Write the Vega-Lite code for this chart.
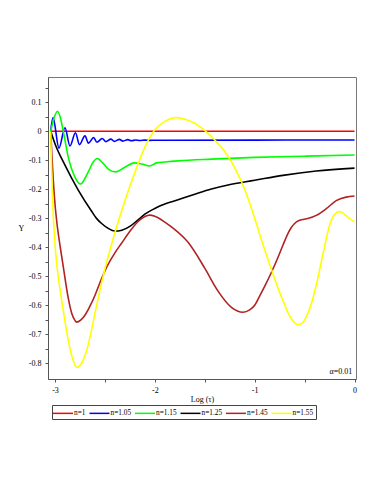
{
  "$schema": "https://vega.github.io/schema/vega-lite/v6.json",
  "width": 308,
  "height": 302,
  "autosize": {"type": "none"},
  "padding": {"left": 48, "top": 77, "right": 27, "bottom": 116},
  "background": "white",
  "config": {
    "font": "Liberation Serif",
    "view": {"stroke": "#777", "strokeWidth": 1},
    "axis": {
      "domainColor": "#555",
      "tickColor": "#555",
      "tickSize": 3,
      "labelFont": "Liberation Serif",
      "labelFontSize": 8,
      "labelColor": "#000",
      "labelOverlap": false,
      "titleFont": "Liberation Serif",
      "titleFontSize": 8,
      "titleFontWeight": "normal",
      "titleColor": "#000",
      "grid": false
    }
  },
  "layer": [
    {
      "data": {
        "values": [
          {"series": "n=1", "x": -3.043, "y": 0},
          {"series": "n=1", "x": 0, "y": 0},

          {"series": "n=1.05", "x": -3.043, "y": 0},
          {"series": "n=1.05", "x": -3.02, "y": 0.047},
          {"series": "n=1.05", "x": -2.96, "y": -0.058},
          {"series": "n=1.05", "x": -2.9, "y": 0.012},
          {"series": "n=1.05", "x": -2.85, "y": -0.051},
          {"series": "n=1.05", "x": -2.795, "y": -0.005},
          {"series": "n=1.05", "x": -2.755, "y": -0.046},
          {"series": "n=1.05", "x": -2.7, "y": -0.016},
          {"series": "n=1.05", "x": -2.665, "y": -0.041},
          {"series": "n=1.05", "x": -2.613, "y": -0.022},
          {"series": "n=1.05", "x": -2.58, "y": -0.038},
          {"series": "n=1.05", "x": -2.527, "y": -0.025},
          {"series": "n=1.05", "x": -2.49, "y": -0.036},
          {"series": "n=1.05", "x": -2.44, "y": -0.027},
          {"series": "n=1.05", "x": -2.405, "y": -0.035},
          {"series": "n=1.05", "x": -2.355, "y": -0.028},
          {"series": "n=1.05", "x": -2.32, "y": -0.034},
          {"series": "n=1.05", "x": -2.27, "y": -0.029},
          {"series": "n=1.05", "x": -2.235, "y": -0.033},
          {"series": "n=1.05", "x": -2.19, "y": -0.03},
          {"series": "n=1.05", "x": -2.15, "y": -0.032},
          {"series": "n=1.05", "x": -2.1, "y": -0.0305},
          {"series": "n=1.05", "x": -2.05, "y": -0.0315},
          {"series": "n=1.05", "x": -2.0, "y": -0.031},
          {"series": "n=1.05", "x": -1.0, "y": -0.0305},
          {"series": "n=1.05", "x": 0, "y": -0.03},

          {"series": "n=1.15", "x": -3.043, "y": 0},
          {"series": "n=1.15", "x": -3.01, "y": 0.045},
          {"series": "n=1.15", "x": -2.975, "y": 0.069},
          {"series": "n=1.15", "x": -2.945, "y": 0.045},
          {"series": "n=1.15", "x": -2.917, "y": 0.0},
          {"series": "n=1.15", "x": -2.867, "y": -0.089},
          {"series": "n=1.15", "x": -2.8, "y": -0.158},
          {"series": "n=1.15", "x": -2.745, "y": -0.182},
          {"series": "n=1.15", "x": -2.667, "y": -0.14},
          {"series": "n=1.15", "x": -2.617, "y": -0.106},
          {"series": "n=1.15", "x": -2.577, "y": -0.094},
          {"series": "n=1.15", "x": -2.52, "y": -0.11},
          {"series": "n=1.15", "x": -2.46, "y": -0.132},
          {"series": "n=1.15", "x": -2.393, "y": -0.14},
          {"series": "n=1.15", "x": -2.3, "y": -0.124},
          {"series": "n=1.15", "x": -2.207, "y": -0.109},
          {"series": "n=1.15", "x": -2.13, "y": -0.113},
          {"series": "n=1.15", "x": -2.05, "y": -0.12},
          {"series": "n=1.15", "x": -1.983, "y": -0.109},
          {"series": "n=1.15", "x": -1.9, "y": -0.106},
          {"series": "n=1.15", "x": -1.767, "y": -0.102},
          {"series": "n=1.15", "x": -1.433, "y": -0.096},
          {"series": "n=1.15", "x": -1.0, "y": -0.09},
          {"series": "n=1.15", "x": -0.5, "y": -0.086},
          {"series": "n=1.15", "x": 0, "y": -0.082},

          {"series": "n=1.25", "x": -3.043, "y": 0},
          {"series": "n=1.25", "x": -3.0, "y": -0.043},
          {"series": "n=1.25", "x": -2.9, "y": -0.117},
          {"series": "n=1.25", "x": -2.767, "y": -0.203},
          {"series": "n=1.25", "x": -2.633, "y": -0.276},
          {"series": "n=1.25", "x": -2.58, "y": -0.302},
          {"series": "n=1.25", "x": -2.533, "y": -0.318},
          {"series": "n=1.25", "x": -2.47, "y": -0.334},
          {"series": "n=1.25", "x": -2.4, "y": -0.344},
          {"series": "n=1.25", "x": -2.33, "y": -0.341},
          {"series": "n=1.25", "x": -2.25, "y": -0.328},
          {"series": "n=1.25", "x": -2.17, "y": -0.306},
          {"series": "n=1.25", "x": -2.1, "y": -0.286},
          {"series": "n=1.25", "x": -2.0, "y": -0.266},
          {"series": "n=1.25", "x": -1.933, "y": -0.255},
          {"series": "n=1.25", "x": -1.767, "y": -0.236},
          {"series": "n=1.25", "x": -1.6, "y": -0.217},
          {"series": "n=1.25", "x": -1.433, "y": -0.199},
          {"series": "n=1.25", "x": -1.267, "y": -0.185},
          {"series": "n=1.25", "x": -1.0, "y": -0.169},
          {"series": "n=1.25", "x": -0.717, "y": -0.152},
          {"series": "n=1.25", "x": -0.383, "y": -0.137},
          {"series": "n=1.25", "x": 0, "y": -0.127},

          {"series": "n=1.45", "x": -3.043, "y": 0},
          {"series": "n=1.45", "x": -3.03, "y": -0.09},
          {"series": "n=1.45", "x": -3.015, "y": -0.18},
          {"series": "n=1.45", "x": -3.0, "y": -0.25},
          {"series": "n=1.45", "x": -2.98, "y": -0.318},
          {"series": "n=1.45", "x": -2.95, "y": -0.393},
          {"series": "n=1.45", "x": -2.917, "y": -0.467},
          {"series": "n=1.45", "x": -2.867, "y": -0.575},
          {"series": "n=1.45", "x": -2.83, "y": -0.63},
          {"series": "n=1.45", "x": -2.8, "y": -0.652},
          {"series": "n=1.45", "x": -2.783, "y": -0.658},
          {"series": "n=1.45", "x": -2.74, "y": -0.65},
          {"series": "n=1.45", "x": -2.7, "y": -0.634},
          {"series": "n=1.45", "x": -2.65, "y": -0.603},
          {"series": "n=1.45", "x": -2.6, "y": -0.566},
          {"series": "n=1.45", "x": -2.55, "y": -0.522},
          {"series": "n=1.45", "x": -2.5, "y": -0.481},
          {"series": "n=1.45", "x": -2.45, "y": -0.448},
          {"series": "n=1.45", "x": -2.4, "y": -0.419},
          {"series": "n=1.45", "x": -2.333, "y": -0.386},
          {"series": "n=1.45", "x": -2.25, "y": -0.345},
          {"series": "n=1.45", "x": -2.17, "y": -0.312},
          {"series": "n=1.45", "x": -2.1, "y": -0.294},
          {"series": "n=1.45", "x": -2.05, "y": -0.289},
          {"series": "n=1.45", "x": -2.0, "y": -0.293},
          {"series": "n=1.45", "x": -1.9, "y": -0.313},
          {"series": "n=1.45", "x": -1.833, "y": -0.33},
          {"series": "n=1.45", "x": -1.667, "y": -0.383},
          {"series": "n=1.45", "x": -1.5, "y": -0.472},
          {"series": "n=1.45", "x": -1.367, "y": -0.551},
          {"series": "n=1.45", "x": -1.233, "y": -0.607},
          {"series": "n=1.45", "x": -1.117, "y": -0.624},
          {"series": "n=1.45", "x": -1.05, "y": -0.616},
          {"series": "n=1.45", "x": -1.0, "y": -0.6},
          {"series": "n=1.45", "x": -0.95, "y": -0.568},
          {"series": "n=1.45", "x": -0.9, "y": -0.535},
          {"series": "n=1.45", "x": -0.833, "y": -0.487},
          {"series": "n=1.45", "x": -0.767, "y": -0.435},
          {"series": "n=1.45", "x": -0.717, "y": -0.393},
          {"series": "n=1.45", "x": -0.667, "y": -0.353},
          {"series": "n=1.45", "x": -0.633, "y": -0.332},
          {"series": "n=1.45", "x": -0.6, "y": -0.318},
          {"series": "n=1.45", "x": -0.55, "y": -0.307},
          {"series": "n=1.45", "x": -0.467, "y": -0.301},
          {"series": "n=1.45", "x": -0.383, "y": -0.29},
          {"series": "n=1.45", "x": -0.283, "y": -0.267},
          {"series": "n=1.45", "x": -0.183, "y": -0.239},
          {"series": "n=1.45", "x": -0.083, "y": -0.227},
          {"series": "n=1.45", "x": 0, "y": -0.223},

          {"series": "n=1.55", "x": -3.043, "y": 0},
          {"series": "n=1.55", "x": -3.036, "y": -0.098},
          {"series": "n=1.55", "x": -3.028, "y": -0.194},
          {"series": "n=1.55", "x": -3.018, "y": -0.284},
          {"series": "n=1.55", "x": -3.005, "y": -0.362},
          {"series": "n=1.55", "x": -2.99, "y": -0.432},
          {"series": "n=1.55", "x": -2.97, "y": -0.495},
          {"series": "n=1.55", "x": -2.94, "y": -0.567},
          {"series": "n=1.55", "x": -2.9, "y": -0.655},
          {"series": "n=1.55", "x": -2.86, "y": -0.733},
          {"series": "n=1.55", "x": -2.82, "y": -0.788},
          {"series": "n=1.55", "x": -2.8, "y": -0.806},
          {"series": "n=1.55", "x": -2.783, "y": -0.814},
          {"series": "n=1.55", "x": -2.75, "y": -0.808},
          {"series": "n=1.55", "x": -2.72, "y": -0.79},
          {"series": "n=1.55", "x": -2.68, "y": -0.752},
          {"series": "n=1.55", "x": -2.64, "y": -0.695},
          {"series": "n=1.55", "x": -2.6, "y": -0.628},
          {"series": "n=1.55", "x": -2.55, "y": -0.548},
          {"series": "n=1.55", "x": -2.5, "y": -0.475},
          {"series": "n=1.55", "x": -2.45, "y": -0.41},
          {"series": "n=1.55", "x": -2.4, "y": -0.35},
          {"series": "n=1.55", "x": -2.3, "y": -0.24},
          {"series": "n=1.55", "x": -2.2, "y": -0.142},
          {"series": "n=1.55", "x": -2.1, "y": -0.055},
          {"series": "n=1.55", "x": -2.0, "y": 0.005},
          {"series": "n=1.55", "x": -1.9, "y": 0.034},
          {"series": "n=1.55", "x": -1.783, "y": 0.047},
          {"series": "n=1.55", "x": -1.667, "y": 0.038},
          {"series": "n=1.55", "x": -1.5, "y": 0.003},
          {"series": "n=1.55", "x": -1.4, "y": -0.03},
          {"series": "n=1.55", "x": -1.3, "y": -0.07},
          {"series": "n=1.55", "x": -1.2, "y": -0.125},
          {"series": "n=1.55", "x": -1.1, "y": -0.2},
          {"series": "n=1.55", "x": -1.0, "y": -0.3},
          {"series": "n=1.55", "x": -0.917, "y": -0.39},
          {"series": "n=1.55", "x": -0.833, "y": -0.475},
          {"series": "n=1.55", "x": -0.767, "y": -0.54},
          {"series": "n=1.55", "x": -0.717, "y": -0.583},
          {"series": "n=1.55", "x": -0.667, "y": -0.625},
          {"series": "n=1.55", "x": -0.617, "y": -0.653},
          {"series": "n=1.55", "x": -0.567, "y": -0.667},
          {"series": "n=1.55", "x": -0.52, "y": -0.66},
          {"series": "n=1.55", "x": -0.483, "y": -0.64},
          {"series": "n=1.55", "x": -0.433, "y": -0.595},
          {"series": "n=1.55", "x": -0.383, "y": -0.53},
          {"series": "n=1.55", "x": -0.317, "y": -0.425},
          {"series": "n=1.55", "x": -0.25, "y": -0.325},
          {"series": "n=1.55", "x": -0.22, "y": -0.298},
          {"series": "n=1.55", "x": -0.19, "y": -0.283},
          {"series": "n=1.55", "x": -0.157, "y": -0.277},
          {"series": "n=1.55", "x": -0.12, "y": -0.281},
          {"series": "n=1.55", "x": -0.083, "y": -0.292},
          {"series": "n=1.55", "x": -0.04, "y": -0.303},
          {"series": "n=1.55", "x": 0, "y": -0.313}
        ]
      },
      "mark": {"type": "line", "interpolate": "monotone", "strokeWidth": 1.6, "clip": true},
      "encoding": {
        "x": {
          "field": "x",
          "type": "quantitative",
          "scale": {"domain": [-3.07, 0.015], "nice": false, "zero": false},
          "axis": {
            "title": "Log (τ)",
            "values": [-3, -2.5, -2, -1.5, -1, -0.5, 0],
            "tickCount": 20,
            "labelExpr": "datum.value % 1 != 0 ? '' : (datum.value == 0 ? '0' : '-' + abs(datum.value))",
            "labelOverlap": false,
            "labelPadding": 4,
            "titlePadding": 1
          }
        },
        "y": {
          "field": "y",
          "type": "quantitative",
          "scale": {"domain": [-0.854, 0.187], "nice": false, "zero": false},
          "axis": {
            "title": "Y",
            "titleAngle": 0,
            "titleX": -27,
            "titleY": 151,
            "titleAlign": "center",
            "titleBaseline": "middle",
            "values": [0.15, 0.1, 0.05, 0, -0.05, -0.1, -0.15, -0.2, -0.25, -0.3, -0.35, -0.4, -0.45, -0.5, -0.55, -0.6, -0.65, -0.7, -0.75, -0.8],
            "tickCount": 40,
            "labelExpr": "abs(datum.value*10 - round(datum.value*10)) > 0.01 ? '' : (abs(datum.value) < 0.001 ? '0' : (datum.value < 0 ? '-' : '') + format(abs(datum.value), '.1f'))",
            "labelOverlap": false,
            "labelPadding": 4
          }
        },
        "color": {
          "field": "series",
          "type": "nominal",
          "scale": {
            "domain": ["n=1", "n=1.05", "n=1.15", "n=1.25", "n=1.45", "n=1.55"],
            "range": ["#ff0000", "#0000ff", "#00ff00", "#000000", "#b22222", "#ffff00"]
          },
          "legend": {
            "title": null,
            "orient": "none",
            "legendX": 4,
            "legendY": 328,
            "direction": "horizontal",
            "columns": 6,
            "gridAlign": "each",
            "symbolType": "M-1.4,0H2.6",
            "symbolSize": 100,
            "symbolStrokeWidth": 1.5,
            "labelFont": "Liberation Serif",
            "labelFontSize": 7.3,
            "labelColor": "#000",
            "labelOffset": 8,
            "columnPadding": 0.5,
            "padding": 2,
            "strokeColor": "#444",
            "fillColor": "white"
          }
        }
      }
    },
    {
      "data": {"values": [{"x": -0.023, "y": -0.831, "label": "α=0.01"}]},
      "mark": {"type": "text", "align": "right", "baseline": "middle", "font": "Liberation Serif", "fontSize": 8, "color": "#000"},
      "encoding": {
        "x": {"field": "x", "type": "quantitative"},
        "y": {"field": "y", "type": "quantitative"},
        "text": {"field": "label"}
      }
    }
  ]
}
